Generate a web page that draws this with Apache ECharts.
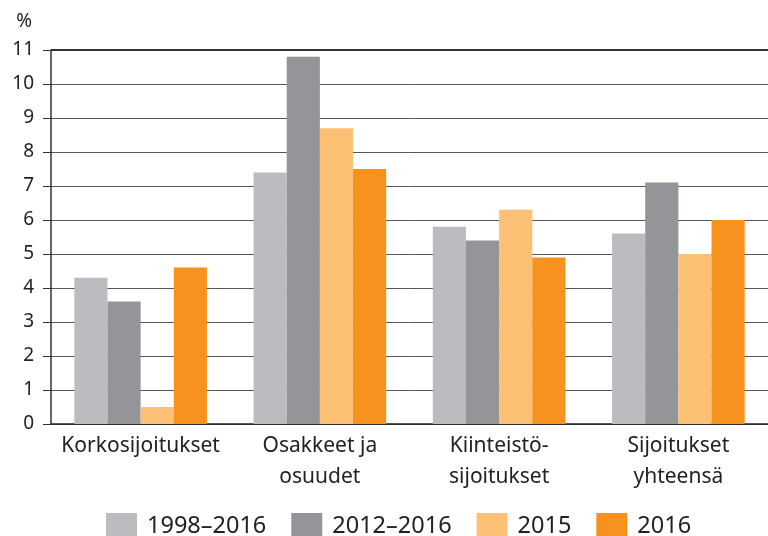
<!DOCTYPE html>
<html><head><meta charset="utf-8">
<script src="https://cdn.jsdelivr.net/npm/echarts@6/dist/echarts.min.js"></script>
<style>html,body{margin:0;padding:0;background:#fff;overflow:hidden}#c{width:768px;height:536px}</style>
</head><body><div id="c"></div>
<script>
const categories = ['Korkosijoitukset', 'Osakkeet ja\nosuudet', 'Kiinteistö-\nsijoitukset', 'Sijoitukset\nyhteensä'];
const seriesNames = ['1998–2016', '2012–2016', '2015', '2016'];
const s1998_2016 = [4.3, 7.4, 5.8, 5.6];
const s2012_2016 = [3.6, 10.8, 5.4, 7.1];
const s2015 = [0.5, 8.7, 6.3, 5.0];
const s2016 = [4.6, 7.5, 4.9, 6.0];
const yMax = 11;
const colors = ['#bbbcbf', '#939598', '#fdc175', '#f7921e'];
const values = [s1998_2016, s2012_2016, s2015, s2016];
const font = 'Noto Sans';
const chart = echarts.init(document.getElementById('c'));
chart.setOption({
  animation: false,
  textStyle: {fontFamily: font},
  grid: {left: 51, right: 0, top: 50, bottom: 112, outerBoundsMode: 'none'},
  legend: {
    top: 513, left: 106, padding: 0, itemWidth: 31, itemHeight: 26, itemGap: 25,
    icon: 'rect',
    textStyle: {fontSize: 23.5, color: '#222', fontFamily: font, padding: [0, 0, 0, 5]},
    data: seriesNames
  },
  xAxis: {
    type: 'category', data: categories,
    axisLine: {lineStyle: {color: '#222', width: 1.5}},
    axisTick: {show: false},
    axisLabel: {fontSize: 21, color: '#222', lineHeight: 31, margin: 7, interval: 0}
  },
  yAxis: {
    type: 'value', min: 0, max: yMax, interval: 1,
    name: '%', nameLocation: 'end', nameGap: 19,
    nameTextStyle: {fontSize: 19, color: '#222', align: 'right', padding: [0, 19, 0, 0]},
    axisLine: {show: true, lineStyle: {color: '#333', width: 1.5}},
    axisTick: {show: true, length: 8, lineStyle: {color: '#333'}},
    axisLabel: {fontSize: 19, color: '#222', margin: 17},
    splitLine: {lineStyle: {color: '#555', width: 1}}
  },
  series: seriesNames.map((n, i) => ({
    name: n, type: 'bar', data: values[i],
    itemStyle: {color: colors[i]},
    barGap: '0%', barCategoryGap: '26%',
    markLine: i === 0 ? {
      silent: true, symbol: 'none', label: {show: false},
      lineStyle: {color: '#333', width: 2, type: 'solid'},
      data: [{yAxis: yMax}]
    } : undefined
  }))
});
</script></body></html>
